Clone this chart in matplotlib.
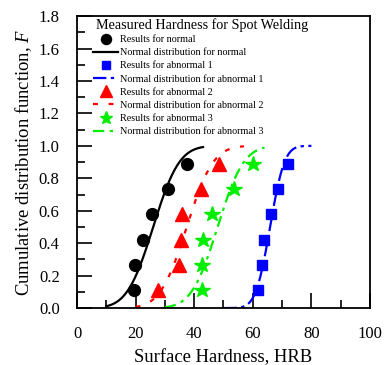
import math

import matplotlib

matplotlib.use("Agg")
import matplotlib.pyplot as plt
from matplotlib.ticker import FormatStrFormatter, MultipleLocator

plt.rcParams["font.family"] = ["Liberation Serif", "DejaVu Serif"]
plt.rcParams["mathtext.fontset"] = "custom"
plt.rcParams["mathtext.rm"] = "Liberation Serif"
plt.rcParams["mathtext.it"] = "Liberation Serif:italic"

# median ranks of the six measured samples
ranks = [0.11, 0.265, 0.42, 0.58, 0.735, 0.89]

hrb_normal = [19.5, 19.9, 22.6, 25.7, 30.9, 37.4]
hrb_abn1 = [61.9, 63.0, 63.8, 66.1, 68.5, 72.1]
hrb_abn2 = [27.8, 34.9, 35.4, 35.7, 42.3, 48.6]
hrb_abn3 = [42.5, 42.8, 43.1, 46.0, 53.6, 60.2]

# fitted normal distributions: (mean, std, x start, x end)
fit_normal = (26.0, 7.0, 10.0, 43.0)
fit_abn1 = (65.9, 3.85, 50.0, 80.0)
fit_abn2 = (37.45, 7.1, 20.0, 57.0)
fit_abn3 = (48.0, 7.0, 30.0, 64.0)


def _cdf_curve(mu, sd, x0, x1, n=200):
    xs = [x0 + (x1 - x0) * i / (n - 1) for i in range(n)]
    ys = [0.5 * (1.0 + math.erf((x - mu) / (sd * math.sqrt(2.0)))) for x in xs]
    return xs, ys


fig = plt.figure(figsize=(3.85, 3.65), dpi=100)
ax = fig.add_axes([0.2, 0.156, 0.761, 0.80])

series = [
    ("normal", hrb_normal, fit_normal, "black", "o", 8.5, "-"),
    ("abnormal 1", hrb_abn1, fit_abn1, "#0000ff", "s", 7.5, (0, (6, 2, 1.5, 2))),
    ("abnormal 2", hrb_abn2, fit_abn2, "#ff0000", "^", 10.0, (0, (2.2, 4.8))),
    ("abnormal 3", hrb_abn3, fit_abn3, "#00ee00", "*", 11.5, (0, (5, 2.5, 1.5, 2.5))),
]

handles = []
for name, xs, fit, color, marker, ms, ls in series:
    (pts,) = ax.plot(xs, ranks, linestyle="none", marker=marker, markersize=ms,
                     color=color, label=f"Results for {name}", zorder=3)
    cx, cy = _cdf_curve(*fit)
    (ln,) = ax.plot(cx, cy, linestyle=ls, color=color, linewidth=1.6,
                    label=f"Normal distribution for {name}", zorder=2)
    handles += [pts, ln]

ax.set_xlim(0, 100)
ax.set_ylim(0, 1.8)
ax.xaxis.set_major_locator(MultipleLocator(20))
ax.xaxis.set_minor_locator(MultipleLocator(10))
ax.yaxis.set_major_locator(MultipleLocator(0.2))
ax.yaxis.set_minor_locator(MultipleLocator(0.1))
ax.yaxis.set_major_formatter(FormatStrFormatter("%.1f"))
ax.tick_params(which="both", direction="in", width=1.2, top=False, right=False)
ax.tick_params(which="major", length=10.8, labelsize=12)
ax.tick_params(which="minor", length=5.8)
ax.tick_params(axis="y", which="major", pad=12.5)
ax.tick_params(axis="x", which="major", pad=13)
for sp in ax.spines.values():
    sp.set_linewidth(1.3)

ax.set_xlabel("Surface Hardness, HRB", fontsize=13.4, labelpad=5)
ax.set_ylabel("Cumulative distribution function, $F$", fontsize=13.4, labelpad=3)

ax.text(0.065, 0.955, "Measured Hardness for Spot Welding", transform=ax.transAxes,
        fontsize=10.2, va="baseline", ha="left")
ax.legend(handles=handles, loc="upper left", bbox_to_anchor=(0.055, 0.935),
          frameon=False, prop={"size": 7.3}, labelspacing=0.4,
          handlelength=2.45, handletextpad=0.2, borderaxespad=0, borderpad=0,
          markerscale=0.85)

fig.savefig("out.png", dpi=100)
